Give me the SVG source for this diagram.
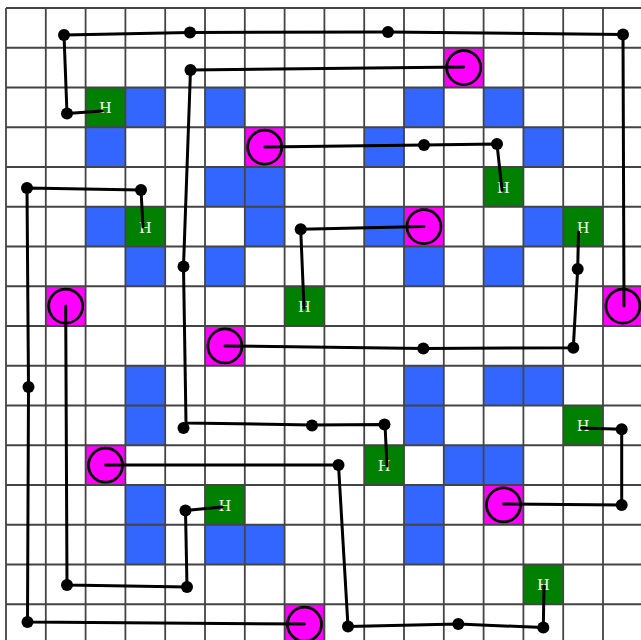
<svg xmlns="http://www.w3.org/2000/svg" width="641" height="640" viewBox="0 0 641 640">
<style>
.b{fill:#3366ff}
.g{fill:#008000}
.m{fill:#ff00ff}
.c{fill:#ff00ff;stroke:#000;stroke-width:2.8}
.t{font-family:"Liberation Serif","DejaVu Serif",serif;font-size:17px;fill:#f2fbe8;text-anchor:middle}
.grid{stroke:#444;stroke-width:1.8;fill:none}
.ln{stroke:#000;stroke-width:3;fill:none;stroke-linejoin:round;stroke-linecap:round}
.d{fill:#000}
</style>
<rect width="641" height="640" fill="#fff"/>
<g id="cells">
<rect class="b" x="125.4" y="87.5" width="40" height="40"/>
<rect class="b" x="205" y="87.5" width="40" height="40"/>
<rect class="b" x="404" y="87.5" width="40" height="40"/>
<rect class="b" x="483.6" y="87.5" width="40" height="40"/>
<rect class="b" x="85.6" y="127.25" width="40" height="40"/>
<rect class="b" x="364.2" y="127.25" width="40" height="40"/>
<rect class="b" x="523.4" y="127.25" width="40" height="40"/>
<rect class="b" x="205" y="167" width="40" height="40"/>
<rect class="b" x="244.8" y="167" width="40" height="40"/>
<rect class="b" x="85.6" y="206.75" width="40" height="40"/>
<rect class="b" x="244.8" y="206.75" width="40" height="40"/>
<rect class="b" x="364.2" y="206.75" width="40" height="40"/>
<rect class="b" x="523.4" y="206.75" width="40" height="40"/>
<rect class="b" x="125.4" y="246.5" width="40" height="40"/>
<rect class="b" x="205" y="246.5" width="40" height="40"/>
<rect class="b" x="404" y="246.5" width="40" height="40"/>
<rect class="b" x="483.6" y="246.5" width="40" height="40"/>
<rect class="b" x="125.4" y="365.75" width="40" height="40"/>
<rect class="b" x="404" y="365.75" width="40" height="40"/>
<rect class="b" x="483.6" y="365.75" width="40" height="40"/>
<rect class="b" x="523.4" y="365.75" width="40" height="40"/>
<rect class="b" x="125.4" y="405.5" width="40" height="40"/>
<rect class="b" x="404" y="405.5" width="40" height="40"/>
<rect class="b" x="443.8" y="445.25" width="40" height="40"/>
<rect class="b" x="483.6" y="445.25" width="40" height="40"/>
<rect class="b" x="125.4" y="485" width="40" height="40"/>
<rect class="b" x="404" y="485" width="40" height="40"/>
<rect class="b" x="125.4" y="524.75" width="40" height="40"/>
<rect class="b" x="205" y="524.75" width="40" height="40"/>
<rect class="b" x="244.8" y="524.75" width="40" height="40"/>
<rect class="b" x="404" y="524.75" width="40" height="40"/>
</g>
<g id="m-11-1"><rect class="m" x="443.8" y="47.75" width="40" height="40"/><circle class="c" cx="463.7" cy="67.6" r="17"/></g>
<g id="m-6-3"><rect class="m" x="244.8" y="127.25" width="40" height="40"/><circle class="c" cx="264.7" cy="147.1" r="17"/></g>
<g id="m-10-5"><rect class="m" x="404" y="206.75" width="40" height="40"/><circle class="c" cx="423.9" cy="226.6" r="17"/></g>
<g id="m-1-7"><rect class="m" x="45.8" y="286.25" width="40" height="40"/><circle class="c" cx="65.7" cy="306.1" r="17"/></g>
<g id="m-15-7"><rect class="m" x="603" y="286.25" width="40" height="40"/><circle class="c" cx="622.9" cy="306.1" r="17"/></g>
<g id="m-5-8"><rect class="m" x="205" y="326" width="40" height="40"/><circle class="c" cx="224.9" cy="345.9" r="17"/></g>
<g id="m-2-11"><rect class="m" x="85.6" y="445.25" width="40" height="40"/><circle class="c" cx="105.5" cy="465.2" r="17"/></g>
<g id="m-12-12"><rect class="m" x="483.6" y="485" width="40" height="40"/><circle class="c" cx="503.5" cy="504.9" r="17"/></g>
<g id="m-7-15"><rect class="m" x="284.6" y="604.25" width="40" height="40"/><circle class="c" cx="304.5" cy="624.2" r="17"/></g>
<g id="h-2-2"><rect class="g" x="85.6" y="87.5" width="40" height="40"/><text class="t" x="105.5" y="113.4">H</text></g>
<g id="h-12-4"><rect class="g" x="483.6" y="167" width="40" height="40"/><text class="t" x="503.5" y="192.9">H</text></g>
<g id="h-3-5"><rect class="g" x="125.4" y="206.75" width="40" height="40"/><text class="t" x="145.3" y="232.6">H</text></g>
<g id="h-14-5"><rect class="g" x="563.2" y="206.75" width="40" height="40"/><text class="t" x="583.1" y="232.6">H</text></g>
<g id="h-7-7"><rect class="g" x="284.6" y="286.25" width="40" height="40"/><text class="t" x="304.5" y="312.1">H</text></g>
<g id="h-14-10"><rect class="g" x="563.2" y="405.5" width="40" height="40"/><text class="t" x="583.1" y="431.4">H</text></g>
<g id="h-9-11"><rect class="g" x="364.2" y="445.25" width="40" height="40"/><text class="t" x="384.1" y="471.2">H</text></g>
<g id="h-5-12"><rect class="g" x="205" y="485" width="40" height="40"/><text class="t" x="224.9" y="510.9">H</text></g>
<g id="h-13-14"><rect class="g" x="523.4" y="564.5" width="40" height="40"/><text class="t" x="543.3" y="590.4">H</text></g>
<path class="grid" d="M6,8V644M45.8,8V644M85.6,8V644M125.4,8V644M165.2,8V644M205,8V644M244.8,8V644M284.6,8V644M324.4,8V644M364.2,8V644M404,8V644M443.8,8V644M483.6,8V644M523.4,8V644M563.2,8V644M603,8V644M6,8H643M6,47.75H643M6,87.5H643M6,127.25H643M6,167H643M6,206.75H643M6,246.5H643M6,286.25H643M6,326H643M6,365.75H643M6,405.5H643M6,445.25H643M6,485H643M6,524.75H643M6,564.5H643M6,604.25H643"/>
<g id="connectors">
<path class="ln" d="M102,111 L67,113.5 L64,35 L190,32.5 L388,32 L623,34.5 L624,306"/>
<path class="ln" d="M463.7,67 L190.5,70 L183.5,266.5 L186,423 L312,425 L385,424.5 L387,466"/>
<path class="ln" d="M264.7,147 L424,145 L497,144 L502,190"/>
<path class="ln" d="M143,227 L141,190 L27,188 L28.5,387 L27.5,622 L304.5,624"/>
<path class="ln" d="M65.7,306 L67,585 L187,587 L185.5,510.5 L222,507"/>
<path class="ln" d="M105.5,465 L338.5,465 L348,626.5 L458.3,624 L543.3,627.5 L544,586"/>
<path class="ln" d="M423.9,226.6 L300.7,229.3 L304,308"/>
<path class="ln" d="M224.9,345.9 L423.3,348.5 L573.3,347.7 L577.7,269 L578.5,232"/>
<path class="ln" d="M581.7,428 L621.7,429.3 L621.7,505 L503.5,504"/>
<circle class="d" cx="67" cy="113.5" r="6"/>
<circle class="d" cx="64" cy="35" r="6"/>
<circle class="d" cx="190" cy="32.5" r="6"/>
<circle class="d" cx="388" cy="32" r="6"/>
<circle class="d" cx="623" cy="34.5" r="6"/>
<circle class="d" cx="190.5" cy="70" r="6"/>
<circle class="d" cx="183.5" cy="266.5" r="6"/>
<circle class="d" cx="183.5" cy="428" r="6"/>
<circle class="d" cx="312" cy="425.5" r="6"/>
<circle class="d" cx="384.5" cy="424.5" r="6"/>
<circle class="d" cx="424" cy="145" r="6"/>
<circle class="d" cx="497" cy="144" r="6"/>
<circle class="d" cx="141" cy="190" r="6"/>
<circle class="d" cx="27" cy="188" r="6"/>
<circle class="d" cx="28.5" cy="387" r="6"/>
<circle class="d" cx="27.5" cy="622" r="6"/>
<circle class="d" cx="67" cy="585" r="6"/>
<circle class="d" cx="187" cy="587" r="6"/>
<circle class="d" cx="185.5" cy="510.5" r="6"/>
<circle class="d" cx="338.5" cy="465" r="6"/>
<circle class="d" cx="348" cy="626.5" r="6"/>
<circle class="d" cx="458.3" cy="624" r="6"/>
<circle class="d" cx="543.3" cy="627.5" r="6"/>
<circle class="d" cx="300.7" cy="229.3" r="6"/>
<circle class="d" cx="423.3" cy="348.5" r="6"/>
<circle class="d" cx="573.3" cy="347.7" r="6"/>
<circle class="d" cx="577.7" cy="269" r="6"/>
<circle class="d" cx="621.7" cy="429.3" r="6"/>
<circle class="d" cx="621.7" cy="505" r="6"/>
</g>
</svg>
